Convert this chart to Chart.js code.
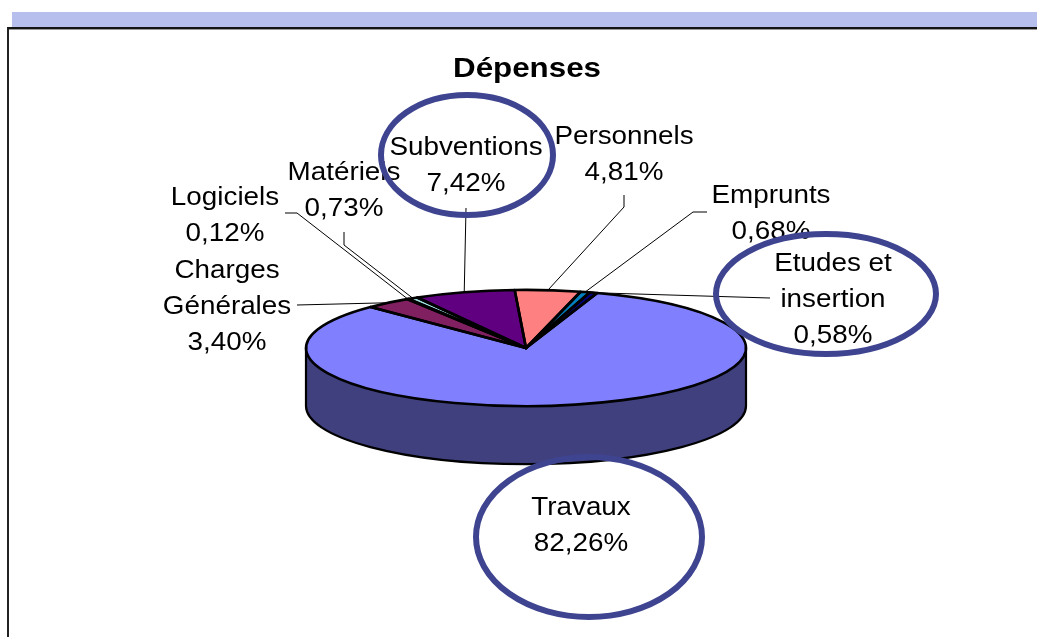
<!DOCTYPE html>
<html>
<head>
<meta charset="utf-8">
<script src="https://cdn.jsdelivr.net/npm/chart.js@4"></script>
<style>
  html, body { margin: 0; padding: 0; background: #fff; }
  body { position: relative; width: 1037px; height: 637px; overflow: hidden; }
  #band { position: absolute; left: 12px; top: 12px; width: 1040px; height: 15px; background: #b7c0ec; }
  #frame { position: absolute; left: 7px; top: 27px; width: 1050px; height: 640px;
           border-top: 2px solid #141414; border-left: 2px solid #222;
           box-shadow: inset 0 1px 0 #999; }
  #pieChart { position: absolute; left: 0; top: 0; }
</style>
</head>
<body>
<div id="band"></div>
<div id="frame"></div>
<canvas id="pieChart" width="1037" height="637"></canvas>
<script>
// data, in the order of the original sheet
const categories = [['Travaux'], ['Charges', 'Générales'], ['Logiciels'], ['Matériels'], ['Subventions'], ['Personnels'], ['Emprunts'], ['Etudes et', 'insertion']];
const shares = [82.26, 3.40, 0.12, 0.73, 7.42, 4.81, 0.68, 0.58];
const sliceColors = ['#8080ff', '#802060', '#ffffc0', '#a0e0e0', '#600080', '#ff8080', '#0080c0', '#000080'];

// layout of labels: centre x, first baseline, leader line elbows
const labelLayout = [
    {x: 581, y: 515, lead: null},
    {x: 227, y: 278, lead: [[297, 305]]},
    {x: 225, y: 205, lead: [[285, 213], [297, 213]]},
    {x: 344, y: 180, lead: [[344, 232], [344, 245]]},
    {x: 466, y: 155, lead: [[466, 208]]},
    {x: 624, y: 144, lead: [[624, 195], [624, 207]]},
    {x: 771, y: 203, lead: [[707, 212], [693, 212]]},
    {x: 833, y: 271, lead: [[770, 298]]}
];
// hand drawn circles round some labels
const circles = [
    {x: 467, y: 155, rx: 86, ry: 60},
    {x: 826, y: 294, rx: 110, ry: 60},
    {x: 589, y: 537, rx: 113, ry: 80}
];

const tilt = 0.264;   // vertical squash of the pie top
const depth = 58;     // height of the pie side

const fmt = v => v.toFixed(2).replace('.', ',') + '%';

function darker(hex){
    const n = parseInt(hex.slice(1), 16);
    const r = (n >> 16) >> 1, g = ((n >> 8) & 255) >> 1, b = (n & 255) >> 1;
    return 'rgb(' + r + ',' + g + ',' + b + ')';
}

// text a bit wider than the font, like the original export
function wideText(ctx, t, x, y, sx){
    ctx.save();
    ctx.scale(sx, 1);
    ctx.fillText(t, x / sx, y);
    ctx.restore();
}

const pie3d = {
    id: 'pie3d',
    beforeDatasetsDraw(chart){
        const ctx = chart.ctx;
        const arcs = chart.getDatasetMeta(0).data;
        const {x: cx, y: cy, outerRadius: r} = arcs[0];
        const ry = r * tilt;

        // side wall, front half only
        arcs.forEach((arc, i) => {
            const TWO = Math.PI * 2;
            let s = ((arc.startAngle % TWO) + TWO) % TWO;
            let e = s + (arc.endAngle - arc.startAngle);
            [[0, Math.PI], [TWO, TWO + Math.PI]].forEach(([lo, hi]) => {
                const a = Math.max(s, lo), b = Math.min(e, hi);
                if (b <= a) return;
                ctx.beginPath();
                ctx.ellipse(cx, cy, r, ry, 0, a, b);
                ctx.ellipse(cx, cy + depth, r, ry, 0, b, a, true);
                ctx.closePath();
                ctx.fillStyle = darker(sliceColors[i]);
                ctx.fill();
            });
        });
        ctx.save();
        ctx.strokeStyle = '#000';
        ctx.lineWidth = 2.2;
        ctx.beginPath();
        ctx.moveTo(cx + r, cy);
        ctx.lineTo(cx + r, cy + depth);
        ctx.ellipse(cx, cy + depth, r, ry, 0, 0, Math.PI);
        ctx.lineTo(cx - r, cy);
        ctx.stroke();
        ctx.restore();

        // squash the top face
        ctx.save();
        ctx.translate(0, cy);
        ctx.scale(1, tilt);
        ctx.translate(0, -cy);
    },
    afterDatasetsDraw(chart){
        const ctx = chart.ctx;
        ctx.restore();
        const arcs = chart.getDatasetMeta(0).data;
        ctx.lineWidth = 2.6;
        ctx.lineJoin = 'round';
        ctx.strokeStyle = '#000';
        arcs.forEach(arc => {
            ctx.save();
            ctx.translate(0, arc.y);
            ctx.scale(1, tilt);
            ctx.translate(0, -arc.y);
            ctx.beginPath();
            ctx.moveTo(arc.x, arc.y);
            ctx.arc(arc.x, arc.y, arc.outerRadius, arc.startAngle, arc.endAngle);
            ctx.closePath();
            ctx.restore();
            ctx.stroke();
        });
    },
    afterDraw(chart){
        const ctx = chart.ctx;
        const arcs = chart.getDatasetMeta(0).data;
        ctx.save();

        // title
        ctx.fillStyle = '#000';
        ctx.textAlign = 'center';
        ctx.textBaseline = 'alphabetic';
        ctx.font = 'bold 27px "Liberation Sans", Arial, sans-serif';
        wideText(ctx, 'Dépenses', 527, 77, 1.16);

        // leader lines
        ctx.strokeStyle = '#000';
        ctx.lineWidth = 1;
        arcs.forEach((arc, i) => {
            const lay = labelLayout[i];
            if (!lay.lead) return;
            const mid = (arc.startAngle + arc.endAngle) / 2;
            const px = arc.x + arc.outerRadius * Math.cos(mid);
            const py = arc.y + arc.outerRadius * tilt * Math.sin(mid);
            ctx.beginPath();
            ctx.moveTo(lay.lead[0][0], lay.lead[0][1]);
            lay.lead.slice(1).forEach(p => ctx.lineTo(p[0], p[1]));
            ctx.lineTo(px, py);
            ctx.stroke();
        });

        // labels
        ctx.font = '26px "Liberation Sans", Arial, sans-serif';
        categories.forEach((lines, i) => {
            const lay = labelLayout[i];
            const all = lines.concat([fmt(shares[i])]);
            all.forEach((t, j) => wideText(ctx, t, lay.x, lay.y + j * 36, 1.07));
        });

        // circles
        ctx.strokeStyle = '#3e4490';
        ctx.lineWidth = 6;
        circles.forEach(c => {
            ctx.beginPath();
            ctx.ellipse(c.x, c.y, c.rx, c.ry, 0, 0, Math.PI * 2);
            ctx.stroke();
        });
        ctx.restore();
    }
};

new Chart('pieChart', {
    type: 'pie',
    data: {
        labels: categories,
        datasets: [{
            data: shares,
            backgroundColor: sliceColors,
            borderWidth: 0,
            clip: false
        }]
    },
    options: {
        responsive: false,
        maintainAspectRatio: false,
        animation: false,
        devicePixelRatio: 1,
        rotation: 18.9,
        layout: {padding: {left: 306, right: 291, top: 128, bottom: 69}},
        plugins: {
            legend: {display: false},
            tooltip: {enabled: false},
            title: {display: false}
        }
    },
    plugins: [pie3d]
});
</script>
</body>
</html>
